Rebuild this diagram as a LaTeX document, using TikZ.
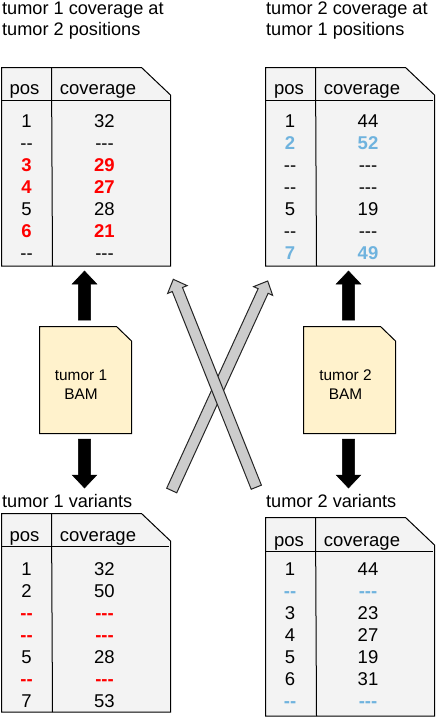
\documentclass[tikz,border=0pt]{standalone}
\usepackage{fontspec}
\setmainfont{Liberation Sans}
\usetikzlibrary{calc}
\definecolor{docgray}{HTML}{F3F3F3}
\definecolor{bamtan}{HTML}{FFF2CC}
\definecolor{hiblue}{HTML}{6FB3DE}
\definecolor{arrowgray}{HTML}{CCCCCC}
\newcommand{\dd}{{-}{-}}
\newcommand{\ddd}{{-}{-}{-}}
% style, tail, tip, half shaft, half head, head length
\newcommand{\blockarrow}[6]{%
  \coordinate (hb) at ($(#3)!#6!(#2)$);
  \draw[#1] ($(#2)!#4!90:(#3)$) -- ($(hb)!#4!90:(#3)$) -- ($(hb)!#5!90:(#3)$) -- (#3)
    -- ($(hb)!#5!-90:(#3)$) -- ($(hb)!#4!-90:(#3)$) -- ($(#2)!#4!-90:(#3)$) -- cycle;}
% left, top, right, bottom, notch x, notch y, style
\newcommand{\docshape}[7]{%
  \draw[#7] (#1,#2) -- (#5,#2) -- (#3,#6) -- (#3,#4) -- (#1,#4) -- cycle;}
\tikzset{
  doc/.style={draw=black,fill=docgray,line width=1pt,line join=miter},
  bam/.style={draw=black,fill=bamtan,line width=1pt},
  rule/.style={draw=black,line width=1pt},
  txt/.style={inner sep=0pt,anchor=base,font=\fontsize{18.5}{18.5}\selectfont,text=black},
  title/.style={inner sep=0pt,anchor=base west,font=\fontsize{18.15}{18.15}\selectfont,text=black},
  bamtxt/.style={inner sep=0pt,anchor=base,font=\fontsize{15.4}{15.4}\selectfont,text=black},
  plain/.style={},
  red/.style={text=red,font=\fontsize{18.5}{18.5}\selectfont\bfseries},
  blue/.style={text=hiblue,font=\fontsize{18.5}{18.5}\selectfont\bfseries},
  blackarrow/.style={fill=black,draw=black,line width=0.5pt},
  grayarrow/.style={fill=arrowgray,draw=black!85,line width=1pt,line join=miter}
}
\begin{document}
\begin{tikzpicture}[x=1pt,y=-1pt]
\useasboundingbox (0,0) rectangle (438,720);
% titles
\node[title] (t1a) at (2,14) {tumor 1 coverage at};
\node[title] (t1b) at (2,35) {tumor 2 positions};
\node[title] (t2a) at (266,14) {tumor 2 coverage at};
\node[title] (t2b) at (266,35) {tumor 1 positions};
\node[title] (t3a) at (2,507) {tumor 1 variants};
\node[title] (t4a) at (266,507) {tumor 2 variants};
% table 1
\docshape{1.5}{67.5}{170.5}{266}{141.5}{95}{doc}
\draw[rule] (2,100.5) -- (170,100.5);
\draw[rule] (51.5,67.5) -- (52.5,266);
\node[txt] (h1p) at (24.5,94.5) {pos};
\node[txt] (h1c) at (98,94.5) {coverage};
\foreach \r/\p/\c/\s in {1/1/32/plain,2/\dd/\ddd/plain,3/3/29/red,4/4/27/red,5/5/28/plain,6/6/21/red,7/\dd/\ddd/plain}
  {\node[txt,\s] (a\r p) at (26.5,105.5+22*\r) {\p};
   \node[txt,\s] (a\r c) at (104.5,105.5+22*\r) {\c};}
% table 2
\docshape{265.5}{67.5}{434.5}{266}{405.5}{95}{doc}
\draw[rule] (266,100.5) -- (433,100.5);
\draw[rule] (315.5,67.5) -- (316.5,266);
\node[txt] (h2p) at (289,94.5) {pos};
\node[txt] (h2c) at (362,94.5) {coverage};
\foreach \r/\p/\c/\s in {1/1/44/plain,2/2/52/blue,3/\dd/\ddd/plain,4/\dd/\ddd/plain,5/5/19/plain,6/\dd/\ddd/plain,7/7/49/blue}
  {\node[txt,\s] (b\r p) at (290,105.5+22*\r) {\p};
   \node[txt,\s] (b\r c) at (368,105.5+22*\r) {\c};}
% table 3
\docshape{1.5}{513.5}{170.5}{712}{141.5}{541}{doc}
\draw[rule] (2,546.5) -- (169,546.5);
\draw[rule] (51.5,513.5) -- (52.5,712);
\node[txt] (h3p) at (24.5,541.5) {pos};
\node[txt] (h3c) at (98,541.5) {coverage};
\foreach \r/\p/\c/\s in {1/1/32/plain,2/2/50/plain,3/\dd/\ddd/red,4/\dd/\ddd/red,5/5/28/plain,6/\dd/\ddd/red,7/7/53/plain}
  {\node[txt,\s] (c\r p) at (26.5,553.5+22*\r) {\p};
   \node[txt,\s] (c\r c) at (104.5,553.5+22*\r) {\c};}
% table 4
\docshape{265.5}{517.5}{434.5}{716}{405.5}{545}{doc}
\draw[rule] (266,551.5) -- (433,551.5);
\draw[rule] (315.5,517.5) -- (316.5,716);
\node[txt] (h4p) at (289,546) {pos};
\node[txt] (h4c) at (362,546) {coverage};
\foreach \r/\p/\c/\s in {1/1/44/plain,2/\dd/\ddd/blue,3/3/23/plain,4/4/27/plain,5/5/19/plain,6/6/31/plain,7/\dd/\ddd/blue}
  {\node[txt,\s] (d\r p) at (290,553.5+22*\r) {\p};
   \node[txt,\s] (d\r c) at (368,553.5+22*\r) {\c};}
% BAM files
\docshape{39.5}{326.5}{131.5}{433.5}{116.5}{341}{bam}
\node[bamtxt] (bam1a) at (81,380.5) {tumor 1};
\node[bamtxt] (bam1b) at (81,399) {BAM};
\docshape{303.5}{326.5}{395.5}{433.5}{380.5}{341}{bam}
\node[bamtxt] (bam2a) at (345.5,380.5) {tumor 2};
\node[bamtxt] (bam2b) at (345.5,399) {BAM};
% black block arrows
\coordinate (u1s) at (84.5,320); \coordinate (u1e) at (84.5,271);
\coordinate (d1s) at (84.5,439); \coordinate (d1e) at (84.5,488);
\coordinate (u2s) at (348.5,320); \coordinate (u2e) at (348.5,271);
\coordinate (d2s) at (348.5,439); \coordinate (d2e) at (348.5,488);
\blockarrow{blackarrow}{u1s}{u1e}{6.2pt}{12.3pt}{13pt}
\blockarrow{blackarrow}{d1s}{d1e}{6.2pt}{12.3pt}{13pt}
\blockarrow{blackarrow}{u2s}{u2e}{6.2pt}{12.3pt}{13pt}
\blockarrow{blackarrow}{d2s}{d2e}{6.2pt}{12.3pt}{13pt}
% gray crossing arrows
\coordinate (bs) at (171.7,490.5); \coordinate (be) at (267.7,281);
\coordinate (as) at (256.3,487.2); \coordinate (ae) at (173.3,279.3);
\blockarrow{grayarrow}{bs}{be}{5.5pt}{10.5pt}{11pt}
\blockarrow{grayarrow}{as}{ae}{5.5pt}{10.5pt}{11pt}
\end{tikzpicture}
\end{document}
